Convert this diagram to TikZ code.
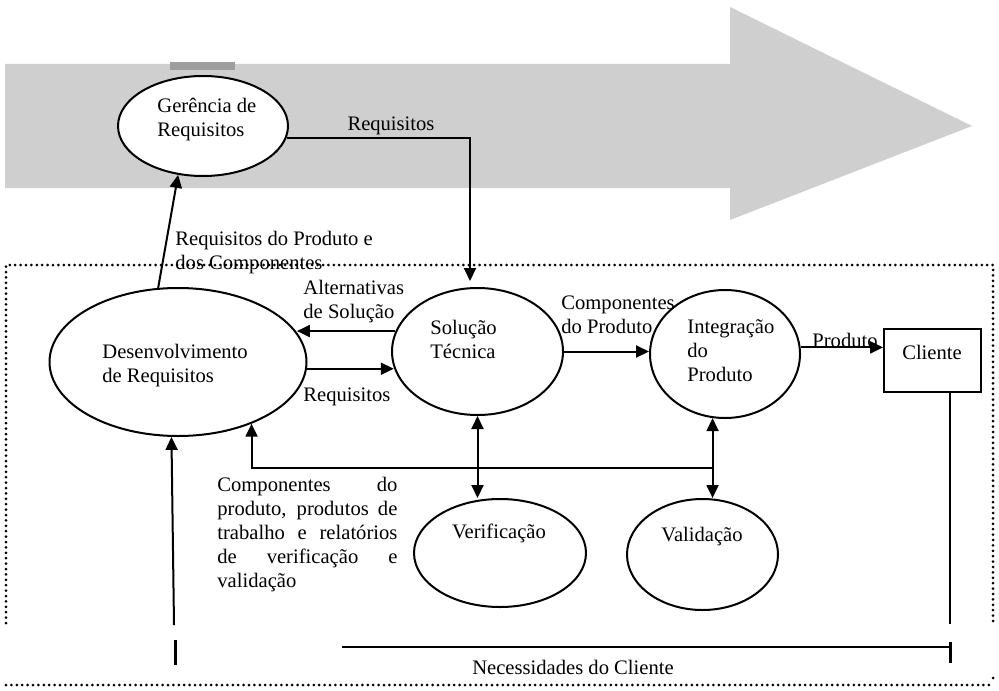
\documentclass[tikz,border=0pt]{standalone}
\usepackage{fontspec}
\setmainfont{Liberation Serif}
\usetikzlibrary{shapes.geometric,arrows.meta}
\begin{document}
\begin{tikzpicture}[x=0.5pt,y=-0.5pt,
  font=\fontsize{10.3}{12}\selectfont,
  proc/.style={draw,ellipse,line width=1pt,fill=white,inner sep=0pt},
  lbl/.style={inner sep=0pt,align=left,anchor=west},
  tip/.tip={Triangle[length=6.5pt,width=6pt]},
  flow/.style={line width=1pt,-tip},
  twoway/.style={line width=1pt,tip-tip},
  plain/.style={line width=0.9pt},
  frame/.style={line width=1.5pt,dash pattern=on 0pt off 2.7pt,line cap=round},
]
\useasboundingbox (0,0) rectangle (999,690);

% broad banner arrow in the background
\fill[black!19] (5,64) -- (730,64) -- (730,7) -- (972,126) -- (730,220) -- (730,188) -- (5,188) -- cycle;
\fill[black!38] (170,62) rectangle (235,70);

% dotted boundary of the engineering area
\draw[frame] (6,623) -- (6,265) -- (993,265) -- (993,622);
\draw[frame] (6,685) -- (993,685);
\fill (993,678) circle (0.75pt);

% processes
\node[proc,minimum width=85pt,minimum height=50pt] (ger) at (203,126) {};
\node[proc,minimum width=128.5pt,minimum height=74pt] (des) at (178,362) {};
\node[proc,minimum width=85.5pt,minimum height=63.5pt] (sol) at (477.5,351.5) {};
\node[proc,minimum width=75pt,minimum height=64pt] (int) at (725,354) {};
\node[proc,minimum width=86pt,minimum height=54pt] (ver) at (500,553) {};
\node[proc,minimum width=75.5pt,minimum height=55.5pt] (val) at (702.5,554.5) {};
\node[draw,line width=0.9pt,minimum width=48.5pt,minimum height=31.5pt,inner sep=0pt] (cli) at (932.5,360.5) {};

% process texts
\node[lbl] (gerT) at (157,120) {Gerência de\\Requisitos};
\node[lbl] (desT) at (102,366) {Desenvolvimento\\de Requisitos};
\node[lbl] (solT) at (430,339) {Solução\\Técnica};
\node[lbl] (intT) at (687,351) {Integração\\do\\Produto};
\node[inner sep=0pt] (verT) at (499,533) {Verificação};
\node[inner sep=0pt] (valT) at (702,537) {Validação};
\node[inner sep=0pt] (cliT) at (932,352) {Cliente};

% free ends
\coordinate (reqend) at (470,281);
\coordinate (fbj) at (713,468);
\coordinate (cnb) at (174,625);
\coordinate (clx) at (950,624);

% flows
\draw[flow] (des.105) -- (ger.243);
\draw[flow] (ger.-8) -| (reqend);
\draw[flow] (sol.166) -- (sol.166 -| des.14);
\draw[flow] (des.-3) -- (des.-3 -| sol.191);
\draw[flow] (sol.east) -- (sol.east -| int.west);
\draw[flow] (int.5) -- (int.5 -| cli.west);
\draw[twoway] (sol.south) -- (sol.south |- ver.north);
\draw[twoway] (int.259) -- (int.259 |- val.north);
\draw[flow] (fbj) -| (des.-40);
\draw[flow] (cnb) -- (des.265);
\draw[plain] (clx |- cli.south) -- (clx);

% customer needs bracket
\draw[line width=1.5pt] (175,640) -- (175,665);
\draw[plain] (342,647) -- (950,647);
\draw[line width=1.5pt] (950,642) -- (950,663);

% flow labels
\node[inner sep=0pt] (reqT) at (391,126) {Requisitos};
\node[lbl] (rpcT) at (175,253) {Requisitos do Produto e\\dos Componentes};
\node[lbl] (altT) at (303,301.5) {Alternativas\\de Solução};
\node[lbl] (reqT2) at (303,397) {Requisitos};
\node[lbl] (cpT) at (561,315) {Componentes\\do Produto};
\node[inner sep=0pt] (prodT) at (845,340) {Produto};
\node[lbl] (fbT) at (217,535) {\makebox[90pt][s]{Componentes do}\\
  \makebox[90pt][s]{produto, produtos de}\\
  \makebox[90pt][s]{trabalho e relatórios}\\
  \makebox[90pt][s]{de verificação e}\\
  validação};
\node[inner sep=0pt] (necT) at (573,667) {Necessidades do Cliente};
\end{tikzpicture}
\end{document}
